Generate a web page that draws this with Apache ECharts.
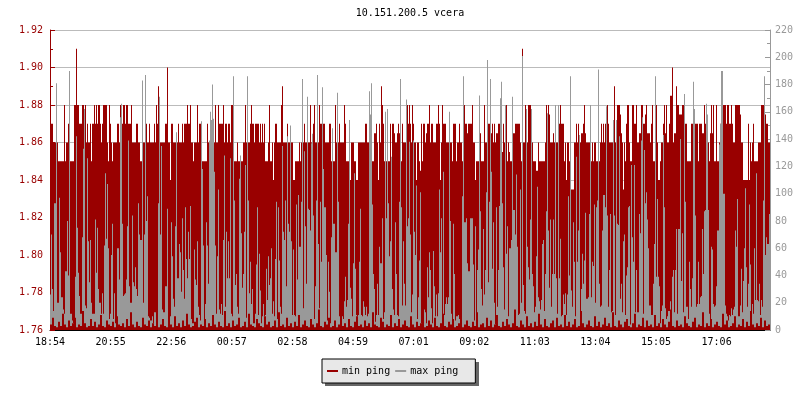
<!DOCTYPE html>
<html><head><meta charset="utf-8"><style>html,body{margin:0;background:#fff}#c{width:800px;height:400px}</style>
<script src="https://cdn.jsdelivr.net/npm/echarts@6/dist/echarts.min.js"></script></head><body><div id="c"></div>
<script>
const timeLabels=["18:54","20:55","22:56","00:57","02:58","04:59","07:01","09:02","11:03","13:04","15:05","17:06"];
// min ping, in hundredths, one sample per 2 minutes
const minPing=[
187,187,187,186,186,186,186,186,185,185,
185,185,185,185,188,185,186,186,187,187,
185,185,185,185,188,188,191,188,188,187,
187,187,188,188,187,188,186,187,186,186,
187,185,187,187,188,187,188,187,188,188,
187,186,187,188,188,188,188,186,185,188,
187,186,185,186,186,186,186,187,187,186,
188,188,187,188,188,187,188,188,187,187,
187,188,186,186,186,186,187,187,186,186,
185,185,186,186,186,188,187,186,186,187,
186,186,186,186,187,186,188,187,189,185,
186,186,186,186,186,187,187,190,186,186,
184,187,187,186,186,186,186,186,187,186,
186,186,187,186,187,187,187,188,187,187,
188,186,186,185,186,186,186,188,186,187,
187,186,185,185,185,185,185,187,186,186,
186,186,186,186,186,188,186,186,188,187,
187,187,187,188,186,187,187,186,187,187,
186,188,188,185,185,185,185,186,185,185,
185,185,185,186,186,188,186,186,186,186,
187,188,187,187,186,187,187,187,187,186,
187,186,187,186,187,185,185,185,186,188,
185,185,186,184,186,187,187,186,186,186,
186,188,189,186,186,186,186,187,186,186,
186,186,186,184,184,185,185,185,185,186,
185,186,186,186,187,186,186,186,186,186,
188,186,186,187,188,186,186,186,186,188,
187,187,187,187,187,186,186,186,186,187,
187,185,185,185,185,188,186,186,186,187,
186,186,186,186,188,187,185,185,185,184,
184,186,186,186,185,185,184,184,186,186,
186,186,186,186,186,187,187,186,186,186,
186.5,186.5,185,185,186.5,186.5,187,186,184,187,
186,189,188,187,185,185,185,185,185,185,
187,185,187,187,186.5,186,186,186.5,187,186.5,
187,185,187,186,186,186,186,188,187,188,
187,186,188,187,186,186,184,186,186,185,
184.5,187,185,187,187,186,186.5,187,187,188,
186,187,187,186,186,186,187,187,188,187,
184,186,188,187,187,187,186,186,186,186,
186,186,185,187,187,187,185,186,186,187,
186,186,185,185,188,187,187,186.5,187,187,
187,187,188,186,186,184,185,185,185,186,
186.5,185,185,185,188,186,186,186,187,187,
186.5,186.5,187,186,187,186,186.5,186.5,187,187,
187,187,185.5,187,186,186,188,185,186,185.5,
185,185,186.5,186.5,186.5,187,187,187,187,187,
186,185,191,186,186,188,186,186,188,188,
188,186,186,185,185,185,184.5,184.5,186,185,
185,185,185,185,185,186,188,187.5,188,187.5,
186,186,186,186.5,186,186,186,186,187,187,
188,187,187,187,185,186,184,186,186,185,
184,183.5,183.5,183.5,186,186,187,186,187,186,
186,186.5,186.5,187,188,186.5,186,186,186,186,
185,185,186,185,186,186,185,185,187,185,
186,187,186,187,186,187,186,188,187,186,
186,186,186,187,189,186,186,188,188,188,
187.5,186.5,186,183.5,186,185,187,188,188,186,
185,185,188,188,187,187,188,186,186,186.5,
186.5,188,188,187,187,187.5,188,186.5,186.5,186.5,
186,187,188,185,185,185,188,186,184,184,
185,186,186,187,188,186.5,188,186,186,187,
188.5,188.5,190,186,186.5,186.5,189,188,188,187.5,
187.5,187.5,188,188,187,187,187,185,185,185,
185,187,187,187,187,187,187,187,185,187,
187,187,186.5,186.5,188,187,188,187,186,185,
186.5,188,186.5,188,185,185,188,185,185,186,
187,187,187,188,188,188,187,188,188,187,
187,188,187,186,186,188,188,188,188,188,
187.5,186,186,184,184,184,184,184,187,184,
186,185,186,187,185,185,185,185,186,186,
186,188,188,188,188,187.5,187,187,186,186];
const maxPing=[
26,70,30,14,93,93,181,20,20,97,
57,24,24,15,12,43,43,80,40,190,
12,12,7,5,5,39,142,75,42,25,
12,12,68,133,162,18,16,126,65,35,
66,20,12,12,12,81,42,75,30,20,
20,12,27,12,62,115,67,107,60,8,
12,55,78,8,27,5,9,60,60,37,
156,166,78,25,26,27,37,76,139,32,
20,20,84,35,32,46,30,25,93,70,
66,66,183,20,70,187,80,98,10,9,
7,7,10,5,13,13,7,7,93,171,
70,135,15,13,13,32,32,89,5,5,
10,79,54,23,17,76,145,38,38,63,
57,28,82,44,23,90,52,38,72,52,
91,8,5,5,59,37,33,65,17,11,
7,153,118,62,8,19,79,62,34,139,
160,154,180,155,116,62,12,54,103,15,
12,19,11,66,128,17,72,38,65,38,
126,12,10,186,95,33,41,17,12,111,
128,71,31,41,72,121,9,186,95,27,
50,19,30,5,5,12,48,90,11,56,
29,5,10,19,10,11,45,22,54,33,
38,60,12,21,10,52,94,8,90,51,
17,12,135,72,66,95,32,142,78,72,
150,65,11,59,11,10,92,37,99,61,
61,94,184,16,131,76,34,171,89,88,
73,137,144,84,8,32,95,187,63,16,
94,50,178,118,90,90,55,7,50,28,
5,68,148,78,78,57,57,174,94,10,
5,5,10,8,21,39,17,22,78,154,
31,23,10,49,115,45,11,10,11,50,
89,11,10,21,17,11,17,10,12,175,
158,181,92,41,30,6,11,34,11,61,
49,49,82,8,13,160,82,162,93,54,
65,127,30,15,11,79,41,11,10,94,
184,90,18,65,34,18,169,76,82,138,
70,13,26,139,72,55,106,8,24,51,
101,5,7,10,15,13,5,46,24,57,
44,16,5,58,32,10,26,10,27,103,
57,82,10,116,11,19,24,19,24,160,
80,12,8,78,41,7,10,10,11,8,
6,6,98,186,79,79,82,49,43,43,
82,82,82,48,7,76,10,44,59,172,
87,30,18,74,26,44,101,198,35,94,
184,116,45,79,20,4,90,17,44,91,
170,182,93,46,15,165,56,76,10,60,
60,66,171,88,88,70,114,61,11,12,
103,20,201,33,14,12,162,61,46,37,
81,162,41,32,13,17,54,105,24,21,
15,22,63,66,14,41,87,159,73,31,
81,17,41,81,41,165,38,12,165,38,
67,10,11,26,19,27,11,26,98,40,
186,29,17,79,50,10,127,50,73,143,
8,30,56,34,51,86,23,23,24,85,
165,24,50,47,92,20,90,95,191,34,
17,18,73,99,99,90,164,84,17,44,
85,13,14,154,84,11,154,78,77,142,
23,34,13,65,70,11,40,46,90,91,
4,121,68,50,121,13,44,13,13,85,
71,139,156,12,132,93,101,81,60,18,
18,11,11,34,63,186,39,96,39,32,
5,14,18,143,90,16,8,10,14,14,
21,10,39,44,13,44,74,12,74,74,
140,36,71,13,173,94,17,17,8,50,
30,17,38,182,162,84,17,19,50,19,
24,25,74,41,87,88,166,158,88,12,
3,61,59,19,17,18,32,73,73,136,
151,190,190,100,100,18,12,10,7,11,
10,16,11,15,17,73,61,96,10,10,
18,45,13,36,60,104,46,17,34,92,
48,12,19,12,60,22,115,22,21,34,
11,22,17,95,186,55,68,63,63,85];
// lower edge of the grey band, one reading per 4 minutes
const greyFloor=[
4,9,3,2,6,3,12,4,2,7,3,5,9,2,4,3,14,5,2,3,8,3,6,2,4,11,3,2,7,4,
3,6,2,10,4,3,5,2,8,3,13,4,2,6,3,2,9,4,3,7,2,5,3,15,2,4,8,3,2,6,
4,2,10,3,5,2,7,3,12,4,2,3,6,9,2,4,3,8,2,5,3,11,4,2,6,3,2,14,3,5,
2,7,3,4,9,2,3,6,2,12,4,3,2,8,5,3,2,10,4,6,2,3,7,2,13,3,4,2,9,3,
5,2,6,3,11,2,4,7,3,2,8,4,2,5,15,3,2,6,4,9,2,3,7,2,4,12,3,5,2,8,
3,2,6,10,3,4,2,7,3,5,2,13,4,3,2,9,6,2,4,3,11,2,5,3,8,2,4,7,3,2,
10,4,2,6,3,5,14,2,3,7,4,2,9,3,2,5,12,3,2,6,4,8,2,3,5,10,2,4,7,3,
2,6,3,13,2,4,5,2,9,3,7,2,4,11,3,2,6,3,8,4,2,5,15,3,2,7,4,2,10,3,
5,2,6,3,12,4,2,8,3,2,5,7,2,9,3,4,2,11,3,6,2,4,8,2,3,14,5,2,4,7,
3,2,10,3,6,2,4,9,3,5,2,13,3,2,7,4,2,6,8,3,2,5,12,2,4,3,9,2,7,3,
4,2,11,3,5,2,8,4,2,6,15,3,2,7,3,4,2,10,5,3,2,6,9,2,4,3,13,2,5,3,
8,2,4,6,3,2,12,4,7,2,3,5,10,2,4,3,8,2,6,3,14,4,2,5,3,9,2,7,3,4];

const RED='#990000',GREY='#999999',MONO='"DejaVu Sans Mono","Liberation Mono",monospace';
const STEP=121.2;
const atX=(arr)=>arr.map((v,i)=>[i*2+1,v]);
const chart=echarts.init(document.getElementById('c'),null,{renderer:'canvas',devicePixelRatio:1});
chart.setOption({
  animation:false,
  backgroundColor:'#fff',
  textStyle:{fontFamily:MONO,fontSize:10},
  title:{text:'10.151.200.5 vcera',left:410,top:8,padding:0,textAlign:'center',
    textStyle:{fontFamily:MONO,fontSize:10,fontWeight:'normal',color:'#000'}},
  graphic:[{type:'rect',z:0,silent:true,shape:{x:325,y:362,width:154,height:24},style:{fill:'#666666'}}],
  legend:{data:['min ping','max ping'],left:322,top:359,z:5,orient:'horizontal',icon:'rect',
    itemWidth:11,itemHeight:2,itemGap:5,padding:[6,17,6,5],
    backgroundColor:'#e8e8e8',borderColor:'#000',borderWidth:1,borderRadius:0,
    textStyle:{fontFamily:MONO,fontSize:10,color:'#000',padding:[0,0,0,-1],lineHeight:12}},
  grid:{left:50,right:30,top:30,bottom:70},
  xAxis:{type:'value',min:0,max:1440,interval:STEP,
    axisLine:{show:true,onZero:false,lineStyle:{color:'#000',width:1}},
    axisTick:{show:true,inside:true,length:5,lineStyle:{color:'#000'}},
    splitLine:{show:false},
    axisLabel:{color:'#000',fontFamily:MONO,fontSize:10,margin:7,showMaxLabel:false,hideOverlap:false,
      formatter:v=>timeLabels[Math.round(v/STEP)]||''}},
  yAxis:[
    {type:'value',min:176,max:192,interval:2,position:'left',
     axisLine:{show:true,lineStyle:{color:RED,width:1}},
     axisTick:{show:true,inside:true,length:5,lineStyle:{color:RED}},
     minorTick:{show:true,splitNumber:2,length:3,lineStyle:{color:RED}},
     splitLine:{show:true,lineStyle:{color:'#bbbbbb',width:1}},
     axisLabel:{color:RED,fontFamily:MONO,fontSize:10,margin:7,formatter:v=>(v/100).toFixed(2)}},
    {type:'value',min:0,max:220,interval:20,position:'right',
     axisLine:{show:true,lineStyle:{color:GREY,width:1}},
     axisTick:{show:true,inside:true,length:5,lineStyle:{color:GREY}},
     minorTick:{show:true,splitNumber:2,length:3,lineStyle:{color:GREY}},
     splitLine:{show:false},
     axisLabel:{color:GREY,fontFamily:MONO,fontSize:10,margin:5}}
  ],
  series:[
    {name:'min ping',type:'bar',yAxisIndex:0,barWidth:1,barGap:'-100%',itemStyle:{color:RED},silent:true,data:atX(minPing)},
    {name:'max ping',type:'bar',yAxisIndex:1,barWidth:1,barGap:'-100%',itemStyle:{color:GREY},silent:true,data:atX(maxPing)},
    {name:'floor',type:'bar',yAxisIndex:1,barWidth:1,barGap:'-100%',itemStyle:{color:RED},silent:true,
     data:atX(maxPing.map((_,i)=>greyFloor[Math.floor(i/2)]))}
  ]
});
</script></body></html>
